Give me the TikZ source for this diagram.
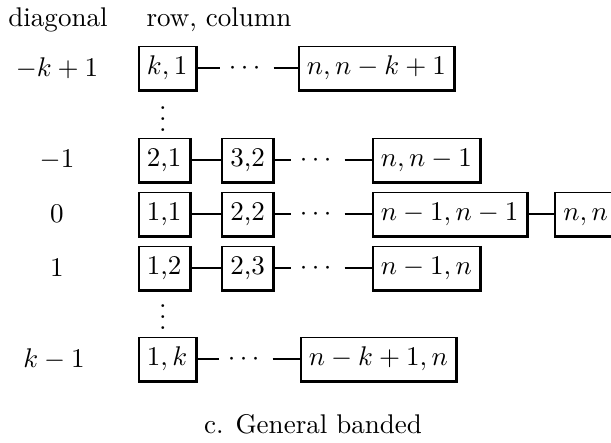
\documentclass[tikz,border=0pt]{standalone}
\usepackage{amsmath,amssymb}
\usepackage{tikz}
\usetikzlibrary{positioning}

\begin{document}
\begin{tikzpicture}[
    x=0.37pt,
    y=-0.37pt,
    font=\normalsize,
    node distance=11.5pt,
    cell/.style={
        draw,
        line width=0.6pt,
        anchor=west,
        inner xsep=3pt,
        inner ysep=3.4pt,
        text height=7pt,
        text depth=2pt,
        append after command={\pgfextra{\draw[line width=1.1pt]
            (\tikzlastnode.north east) -- (\tikzlastnode.south east)
            -- (\tikzlastnode.south west);}}
    },
    gap/.style={inner xsep=3pt, text height=7pt, text depth=2pt},
    link/.style={line width=0.4pt}
]
\useasboundingbox (0,0) rectangle (611,442);

% --- Headings ---
\node (hdiag) at (58,20) {diagonal};
\node[anchor=west] (hrow) at (137,20) {row, column};

% --- Diagonal numbers ---
\node (lfirst) at (57,68) {$-k+1$};
\node (lminus) at (57,160) {$-1$};
\node (lzero) at (57,214) {$0$};
\node (lplus) at (57,268) {$1$};
\node (llast) at (54,359) {$k-1$};

% --- Diagonal -k+1 ---
\node[cell] (k1) at (138,68) {$k,1$};
\node[gap] (gfirst) at (247,68) {$\cdots$};
\node[cell] (nnk1) at (298,68) {$n,n-k+1$};
\draw[link] (k1) -- (gfirst) -- (nnk1);

\node (vtop) at (163,111) {$\vdots$};

% --- Diagonal -1 ---
\node[cell] (c21) at (138,160) {2,1};
\node[cell, right=of c21] (c32) {3,2};
\node[gap] (gminus) at (318,160) {$\cdots$};
\node[cell] (cnn1) at (372,160) {$n,n-1$};
\draw[link] (c21) -- (c32) -- (gminus) -- (cnn1);

% --- Diagonal 0 ---
\node[cell] (c11) at (138,214) {1,1};
\node[cell, right=of c11] (c22) {2,2};
\node[gap] (gzero) at (318,214) {$\cdots$};
\node[cell] (cn1n1) at (372,214) {$n-1,n-1$};
\node[cell, right=10pt of cn1n1] (cnn) {$n,n$};
\draw[link] (c11) -- (c22) -- (gzero) -- (cn1n1) -- (cnn);

% --- Diagonal 1 ---
\node[cell] (c12) at (138,268) {1,2};
\node[cell, right=of c12] (c23) {2,3};
\node[gap] (gplus) at (318,268) {$\cdots$};
\node[cell] (cn1n) at (372,268) {$n-1,n$};
\draw[link] (c12) -- (c23) -- (gplus) -- (cn1n);

\node (vbot) at (163,309) {$\vdots$};

% --- Diagonal k-1 ---
\node[cell] (c1k) at (138,359) {$1,k$};
\node[gap] (glast) at (246,359) {$\cdots$};
\node[cell] (cnk1n) at (300,359) {$n-k+1,n$};
\draw[link] (c1k) -- (glast) -- (cnk1n);

% --- Caption ---
\node (cap) at (313,424) {c. General banded};

\end{tikzpicture}
\end{document}
